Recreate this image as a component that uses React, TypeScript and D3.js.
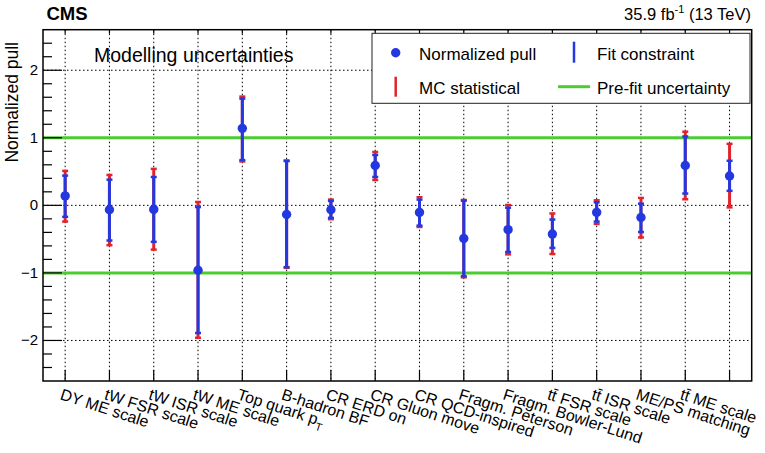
import React from 'react';
import * as d3 from 'd3';

// nuisance parameters (last bin has no label in the original)
const categories = [
  'DY ME scale',
  'tW FSR scale',
  'tW ISR scale',
  'tW ME scale',
  'Top quark p_{T}',
  'B-hadron BF',
  'CR ERD on',
  'CR Gluon move',
  'CR QCD-inspired',
  'Fragm. Peterson',
  'Fragm. Bowler-Lund',
  'tt\u0304 FSR scale',
  'tt\u0304 ISR scale',
  'ME/PS matching',
  'tt\u0304 ME scale',
  '',
];

const pull = [0.14, -0.065, -0.06, -0.96, 1.14, -0.135, -0.065, 0.59, -0.105, -0.49, -0.36, -0.425, -0.105, -0.18, 0.59, 0.435];
const fitHigh = [0.44, 0.38, 0.42, -0.025, 1.58, 0.655, 0.065, 0.745, 0.085, 0.07, -0.035, -0.21, 0.045, 0.025, 1.02, 0.66];
const fitLow = [-0.17, -0.52, -0.54, -1.89, 0.67, -0.915, -0.185, 0.42, -0.3, -1.05, -0.69, -0.63, -0.24, -0.395, 0.175, 0.215];
const mcHigh = [0.51, 0.45, 0.54, 0.05, 1.61, 0.665, 0.085, 0.79, 0.12, 0.08, 0.005, -0.12, 0.075, 0.11, 1.09, 0.91];
const mcLow = [-0.24, -0.59, -0.655, -1.96, 0.65, -0.925, -0.205, 0.375, -0.32, -1.065, -0.725, -0.72, -0.275, -0.475, 0.09, -0.03];

const yMajor = [-2, -1, 0, 1, 2];
const preFit = [-1, 1];

const W = 765;
const H = 453;
const frame = { left: 43, right: 751.7, top: 29.7, bottom: 381 };
const font = '"Liberation Sans", Arial, Helvetica, sans-serif';

const BLUE = '#2438e0';
const RED = '#e3232b';
const GREEN = '#4ccc33';

const renderLabel = (s: string) => {
  const m = s.match(/^(.*)_\{(.*)\}$/);
  if (!m) return s;
  return (
    <>
      {m[1]}
      <tspan fontSize={11} dy={5}>{m[2]}</tspan>
    </>
  );
};

const App = () => {
  const x = d3.scaleBand<number>()
    .domain(d3.range(categories.length))
    .range([frame.left, frame.right]);
  const cx = (i: number) => (x(i) as number) + x.bandwidth() / 2;

  const y = d3.scaleLinear()
    .domain([-2.6, 2.6])
    .range([frame.bottom, frame.top]);

  const minorTicks = d3.range(-2.4, 2.6, 0.2)
    .map(v => Math.round(v * 10) / 10)
    .filter(v => !yMajor.includes(v));

  const bar = (i: number, lo: number, hi: number, color: string, w: number, capW: number) => {
    const xc = cx(i);
    return (
      <g key={`${color}-${i}`} stroke={color}>
        <line x1={xc} x2={xc} y1={y(lo)} y2={y(hi)} strokeWidth={w} />
        <line x1={xc - capW / 2} x2={xc + capW / 2} y1={y(lo)} y2={y(lo)} strokeWidth={2.5} />
        <line x1={xc - capW / 2} x2={xc + capW / 2} y1={y(hi)} y2={y(hi)} strokeWidth={2.5} />
      </g>
    );
  };

  return (
    <svg width={W} height={H} style={{ position: 'absolute', left: 0, top: 0, background: '#fff' }} fontFamily={font}>
      <rect width={W} height={H} fill="#fff" />

      {/* grid */}
      <g stroke="#000" strokeWidth={1} strokeDasharray="1.5,2.5">
        {categories.map((_, i) => (
          <line key={`vg${i}`} x1={cx(i)} x2={cx(i)} y1={frame.top} y2={frame.bottom} />
        ))}
        {yMajor.map(v => (
          <line key={`hg${v}`} x1={frame.left} x2={frame.right} y1={y(v)} y2={y(v)} />
        ))}
      </g>

      {/* pre-fit band */}
      {preFit.map(v => (
        <line key={`pf${v}`} x1={frame.left} x2={frame.right} y1={y(v)} y2={y(v)} stroke={GREEN} strokeWidth={3} />
      ))}

      {/* ticks */}
      <g stroke="#000" strokeWidth={1.2}>
        {yMajor.map(v => (
          <line key={`yt${v}`} x1={frame.left} x2={frame.left + 19} y1={y(v)} y2={y(v)} />
        ))}
        {minorTicks.map(v => (
          <line key={`ym${v}`} x1={frame.left} x2={frame.left + 9} y1={y(v)} y2={y(v)} />
        ))}
        {categories.map((_, i) => (
          <g key={`xt${i}`}>
            <line x1={cx(i)} x2={cx(i)} y1={frame.bottom} y2={frame.bottom - 11} />
            <line x1={cx(i)} x2={cx(i)} y1={frame.top} y2={frame.top + 4} />
          </g>
        ))}
      </g>

      {/* error bars */}
      {pull.map((_, i) => bar(i, mcLow[i], mcHigh[i], RED, 3, 6))}
      {pull.map((_, i) => bar(i, fitLow[i], fitHigh[i], BLUE, 3, 6))}
      {pull.map((p, i) => (
        <circle key={`pt${i}`} cx={cx(i)} cy={y(p)} r={4.7} fill={BLUE} />
      ))}

      {/* frame */}
      <rect x={frame.left} y={frame.top} width={frame.right - frame.left} height={frame.bottom - frame.top}
        fill="none" stroke="#000" strokeWidth={1.5} />

      {/* y tick labels */}
      {yMajor.map(v => (
        <text key={`yl${v}`} x={frame.left - 5} y={y(v) + 5} textAnchor="end" fontSize={15}>
          {v < 0 ? `\u2212${Math.abs(v)}` : v}
        </text>
      ))}

      {/* x labels */}
      {categories.map((c, i) => (
        <text key={`xl${i}`} transform={`translate(${cx(i) - 6},399) rotate(18)`} fontSize={16}>
          {renderLabel(c)}
        </text>
      ))}

      {/* y title */}
      <text transform="translate(18,42) rotate(-90)" textAnchor="end" fontSize={17.5}>Normalized pull</text>

      {/* header */}
      <text x={46.5} y={20} fontSize={18.5} fontWeight="bold">CMS</text>
      <text x={751} y={20} textAnchor="end" fontSize={16.5}>
        35.9 fb<tspan fontSize={11} dy={-7}>-1</tspan><tspan dy={7}> (13 TeV)</tspan>
      </text>

      <text x={94} y={61.5} fontSize={19.5}>Modelling uncertainties</text>

      {/* legend */}
      <g>
        <rect x={372} y={33.3} width={378} height={70} fill="#fff" stroke="#222" strokeWidth={1} />
        <circle cx={395.7} cy={52.7} r={4.7} fill={BLUE} />
        <text x={419} y={59.5} fontSize={17}>Normalized pull</text>
        <line x1={574} x2={574} y1={41.7} y2={62.7} stroke={BLUE} strokeWidth={2.5} />
        <text x={597} y={59.5} fontSize={17}>Fit constraint</text>
        <line x1={395.7} x2={395.7} y1={76.7} y2={96.7} stroke={RED} strokeWidth={2.5} />
        <text x={419} y={93.5} fontSize={17}>MC statistical</text>
        <line x1={558} x2={590} y1={86.7} y2={86.7} stroke={GREEN} strokeWidth={3} />
        <text x={597} y={93.5} fontSize={17}>Pre-fit uncertainty</text>
      </g>
    </svg>
  );
};

export default App;
